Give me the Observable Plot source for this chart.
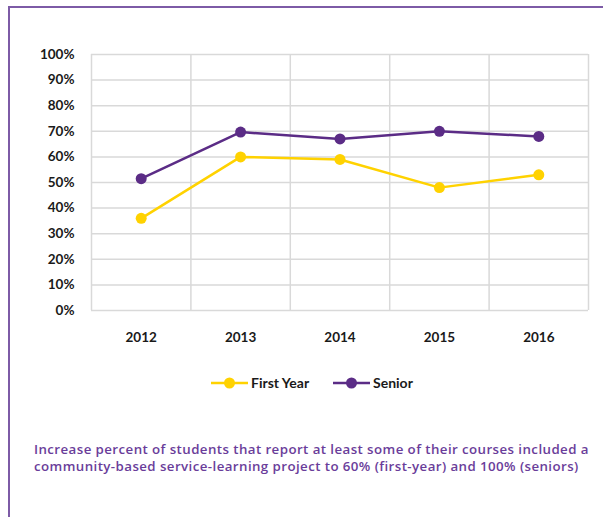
<!DOCTYPE html>
<html>
<head>
<meta charset="utf-8">
<script src="https://cdn.jsdelivr.net/npm/d3@7"></script>
<script src="https://cdn.jsdelivr.net/npm/@observablehq/plot@0.6"></script>
<style>
  html, body { margin: 0; padding: 0; background: #fff; }
  body { width: 603px; height: 517px; overflow: hidden; position: relative; font-family: Lato, "Open Sans", sans-serif; }
  #frame { position: absolute; left: 8px; top: 6px; width: 700px; height: 600px; border-left: 2px solid #7d5ba6; border-top: 2px solid #7d5ba6; }
  #chart { position: absolute; left: 0; top: 0; }
  #legend { position: absolute; left: 0; top: 372px; width: 603px; height: 22px; }
  #caption { position: absolute; left: 34px; top: 441px; width: 570px; color: #6a3d9a; font-family: "Open Sans", sans-serif; font-weight: 600; font-size: 13.3px; letter-spacing: 0.42px; white-space: nowrap; }
  #caption div { height: 17px; line-height: 17px; }
</style>
</head>
<body>
<div id="frame"></div>
<div id="chart"></div>
<div id="legend"></div>
<div id="caption"><div>Increase percent of students that report at least some of their courses included a</div><div>community-based service-learning project to 60% (first-year) and 100% (seniors)</div></div>
<script>
const years = [2012, 2013, 2014, 2015, 2016];
const firstYear = [0.36, 0.60, 0.59, 0.48, 0.53];
const senior = [0.515, 0.697, 0.67, 0.70, 0.68];
const yTicks = [0, 0.1, 0.2, 0.3, 0.4, 0.5, 0.6, 0.7, 0.8, 0.9, 1.0];
const xBounds = [2011.5, 2012.5, 2013.5, 2014.5, 2015.5, 2016.5];
const seriesNames = ["First Year", "Senior"];
const seriesColors = ["#ffd200", "#5b2c86"];

const rows = [];
years.forEach((yr, i) => {
  rows.push({year: yr, value: firstYear[i], series: seriesNames[0]});
  rows.push({year: yr, value: senior[i], series: seriesNames[1]});
});

const chart = Plot.plot({
  width: 603,
  height: 360,
  marginLeft: 91,
  marginRight: 15,
  marginTop: 54,
  marginBottom: 50,
  style: {fontFamily: "Lato, 'Open Sans', sans-serif", background: "transparent"},
  x: {domain: [2011.5, 2016.5]},
  y: {domain: [0, 1]},
  color: {domain: seriesNames, range: seriesColors},
  marks: [
    Plot.ruleY(yTicks, {y: d => d, stroke: "#d9d9d9", strokeWidth: 1.5}),
    Plot.ruleX(xBounds, {x: d => d, stroke: "#d9d9d9", strokeWidth: 1.5}),
    Plot.axisY({ticks: yTicks, tickFormat: d3.format(".0%"), tickSize: 0, tickPadding: 17, fontSize: 13.5, fontWeight: "bold", fill: "#1a1a1a", label: null}),
    Plot.axisX({ticks: years, tickFormat: d => String(d), tickSize: 0, tickPadding: 22, fontSize: 13.5, fontWeight: "bold", fill: "#1a1a1a", label: null}),
    Plot.line(rows, {x: "year", y: "value", stroke: "series", z: "series", strokeWidth: 2.5}),
    Plot.dot(rows, {x: "year", y: "value", fill: "series", r: 5.5, stroke: null})
  ]
});
document.getElementById("chart").appendChild(chart);

// legend
const legendItems = [
  {name: seriesNames[0], color: seriesColors[0], x: 211},
  {name: seriesNames[1], color: seriesColors[1], x: 333}
];
const ns = "http://www.w3.org/2000/svg";
const lsvg = document.createElementNS(ns, "svg");
lsvg.setAttribute("width", 603);
lsvg.setAttribute("height", 22);
legendItems.forEach(it => {
  const line = document.createElementNS(ns, "line");
  line.setAttribute("x1", it.x); line.setAttribute("x2", it.x + 37);
  line.setAttribute("y1", 11); line.setAttribute("y2", 11);
  line.setAttribute("stroke", it.color); line.setAttribute("stroke-width", 2.5);
  lsvg.appendChild(line);
  const c = document.createElementNS(ns, "circle");
  c.setAttribute("cx", it.x + 18.5); c.setAttribute("cy", 11); c.setAttribute("r", 5.5);
  c.setAttribute("fill", it.color);
  lsvg.appendChild(c);
  const t = document.createElementNS(ns, "text");
  t.setAttribute("x", it.x + 40); t.setAttribute("y", 16);
  t.setAttribute("font-size", 14); t.setAttribute("font-weight", "bold");
  t.setAttribute("font-family", "Lato, 'Open Sans', sans-serif");
  t.setAttribute("fill", "#1a1a1a");
  t.textContent = it.name;
  lsvg.appendChild(t);
});
document.getElementById("legend").appendChild(lsvg);
</script>
</body>
</html>
